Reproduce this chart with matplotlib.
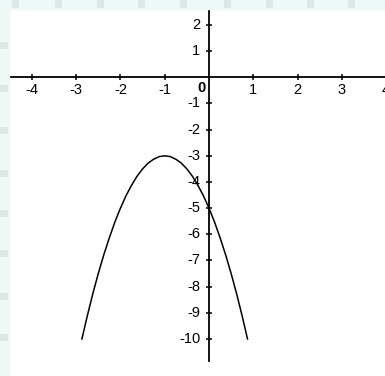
import matplotlib
matplotlib.use('Agg')
import matplotlib.pyplot as plt
from matplotlib.patches import Rectangle

# punkty paraboli
x_pts = [-2.87, -2.75, -2.625, -2.5, -2.375, -2.25, -2.125, -2.0, -1.875,
         -1.75, -1.625, -1.5, -1.375, -1.25, -1.125, -1.0, -0.875, -0.75,
         -0.625, -0.5, -0.375, -0.25, -0.125, 0.0, 0.125, 0.25, 0.375, 0.5,
         0.625, 0.75, 0.87]
y_pts = [-10.0, -9.13, -8.28, -7.5, -6.78, -6.13, -5.53, -5.0, -4.53,
         -4.13, -3.78, -3.5, -3.28, -3.13, -3.03, -3.0, -3.03, -3.13,
         -3.28, -3.5, -3.78, -4.13, -4.53, -5.0, -5.53, -6.13, -6.78, -7.5,
         -8.28, -9.13, -10.0]

x_ticks = [-4, -3, -2, -1, 1, 2, 3, 4]
y_ticks = [2, 1, -1, -2, -3, -4, -5, -6, -7, -8, -9, -10]

fig = plt.figure(figsize=(3.85, 3.76), dpi=100)
fig.patch.set_facecolor('white')

# pasek tla u gory i z lewej strony
W, H = 385, 376
fig.patches.append(Rectangle((0, 1 - 9 / H), 1, 9 / H, transform=fig.transFigure,
                             color='#eef8f7', zorder=0))
fig.patches.append(Rectangle((0, 0), 9 / W, 1, transform=fig.transFigure,
                             color='#eef8f7', zorder=0))
for px in [12, 55, 97, 138, 180, 224, 266, 307, 348]:
    fig.patches.append(Rectangle((px / W, 1 - 8 / H), 7 / W, 8 / H,
                                 transform=fig.transFigure, color='#c9d3d3',
                                 alpha=0.45, lw=0, zorder=0))
for py in [42, 85, 127, 170, 210, 250, 293, 334]:
    fig.patches.append(Rectangle((0, 1 - (py + 7) / H), 8 / W, 7 / H,
                                 transform=fig.transFigure, color='#c9d3d3',
                                 alpha=0.45, lw=0, zorder=0))

ax = fig.add_axes([9 / W, 0, 1 - 9 / W, 1 - 9 / H])
ax.set_facecolor('white')
ax.set_xlim(-4.516, 3.974)
ax.set_ylim(-11.414, 2.61)
ax.axis('off')

# osie ukladu
ax.plot([-4.516, 3.974], [0, 0], color='black', lw=1.3)
ax.plot([0, 0], [2.57, -10.84], color='black', lw=1.3)

# znaczniki
ax.plot(x_ticks, [0] * len(x_ticks), ls='none', marker='|', ms=4.5,
        mew=1.1, color='black')
ax.plot([0] * len(y_ticks), y_ticks, ls='none', marker='_', ms=4.5,
        mew=1.1, color='black')

font = dict(family='Liberation Sans', fontsize=10.5, color='black')
for t in x_ticks:
    ax.text(t, -0.48, str(t), ha='center', va='center', **font)
for t in y_ticks:
    ax.text(-0.2, t, str(t), ha='right', va='center', **font)
ax.text(-0.16, -0.42, '0', ha='center', va='center', fontweight='bold', **font)

# wykres funkcji
ax.plot(x_pts, y_pts, color='black', lw=1.1)

fig.savefig('out.png', dpi=100)
